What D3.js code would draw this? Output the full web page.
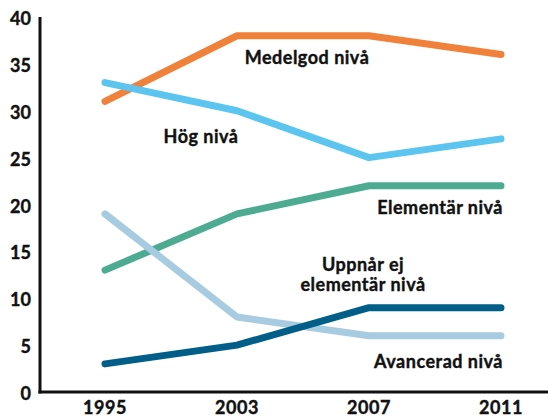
<!DOCTYPE html>
<html>
<head>
<meta charset="utf-8">
<script src="https://cdn.jsdelivr.net/npm/d3@7"></script>
<style>
  body { margin: 0; background: #fff; }
  text { font-family: Lato, "Open Sans", sans-serif; font-weight: 700; fill: #111; stroke: #111; stroke-width: 0.4px; }
</style>
</head>
<body>
<div id="chart"></div>
<script>
// data
const years = ['1995', '2003', '2007', '2011'];
const yTicks = [0, 5, 10, 15, 20, 25, 30, 35, 40];

const medelgod = [31, 38, 38, 36];
const hog = [33, 30, 25, 27];
const elementar = [13, 19, 22, 22];
const avancerad = [19, 8, 6, 6];
const uppnarEj = [3, 5, 9, 9];

const seriesNames = ['Medelgod nivå', 'Hög nivå', 'Elementär nivå', 'Avancerad nivå', 'Uppnår ej elementär nivå'];
const seriesValues = [medelgod, hog, elementar, avancerad, uppnarEj];
const seriesColors = ['#f0813b', '#5bc5f0', '#4dab92', '#a7cbe0', '#005e88'];

const width = 548;
const height = 418;

const svg = d3.select('#chart')
    .append('svg')
    .attr('width', width)
    .attr('height', height);

const x = d3.scalePoint()
    .domain(years)
    .range([105, 501]);

const y = d3.scaleLinear()
    .domain([0, 40])
    .range([392, 17]);

// axes lines
svg.append('line')
    .attr('x1', 40).attr('x2', 40)
    .attr('y1', y(40)).attr('y2', y(0) + 1.5)
    .attr('stroke', '#111').attr('stroke-width', 3);

svg.append('line')
    .attr('x1', 38.5).attr('x2', width)
    .attr('y1', y(0)).attr('y2', y(0))
    .attr('stroke', '#111').attr('stroke-width', 3);

// tick labels
svg.selectAll('.ylab')
    .data(yTicks)
    .enter()
    .append('text')
    .attr('class', 'ylab')
    .attr('x', 31)
    .attr('y', d => y(d) + 8)
    .attr('text-anchor', 'end')
    .style('font-size', '18px')
    .text(d => d);

svg.selectAll('.xlab')
    .data(years)
    .enter()
    .append('text')
    .attr('class', 'xlab')
    .attr('x', d => x(d))
    .attr('y', 414)
    .attr('text-anchor', 'middle')
    .style('font-size', '18px')
    .style('letter-spacing', '0.5px')
    .text(d => d);

// lines
const line = d3.line()
    .x((d, i) => x(years[i]))
    .y(d => y(d));

svg.selectAll('.series')
    .data(seriesValues)
    .enter()
    .append('path')
    .attr('class', 'series')
    .attr('d', line)
    .attr('fill', 'none')
    .attr('stroke', (d, i) => seriesColors[i])
    .attr('stroke-width', 7)
    .attr('stroke-linecap', 'round')
    .attr('stroke-linejoin', 'round');

// series labels
const labels = [
    { text: ['Medelgod nivå'], x: 307, y: 64, anchor: 'middle' },
    { text: ['Hög nivå'], x: 201, y: 143, anchor: 'middle' },
    { text: ['Elementär nivå'], x: 503, y: 214, anchor: 'end' },
    { text: ['Uppnår ej', 'elementär nivå'], x: 363, y: 271, anchor: 'middle' },
    { text: ['Avancerad nivå'], x: 503, y: 368, anchor: 'end' }
];

labels.forEach(l => {
    const t = svg.append('text')
        .attr('x', l.x)
        .attr('y', l.y)
        .attr('text-anchor', l.anchor)
        .style('font-size', '18px')
        .style('letter-spacing', '0.5px');
    l.text.forEach((s, i) => {
        t.append('tspan')
            .attr('x', l.x)
            .attr('dy', i === 0 ? 0 : 20)
            .text(s);
    });
});
</script>
</body>
</html>
